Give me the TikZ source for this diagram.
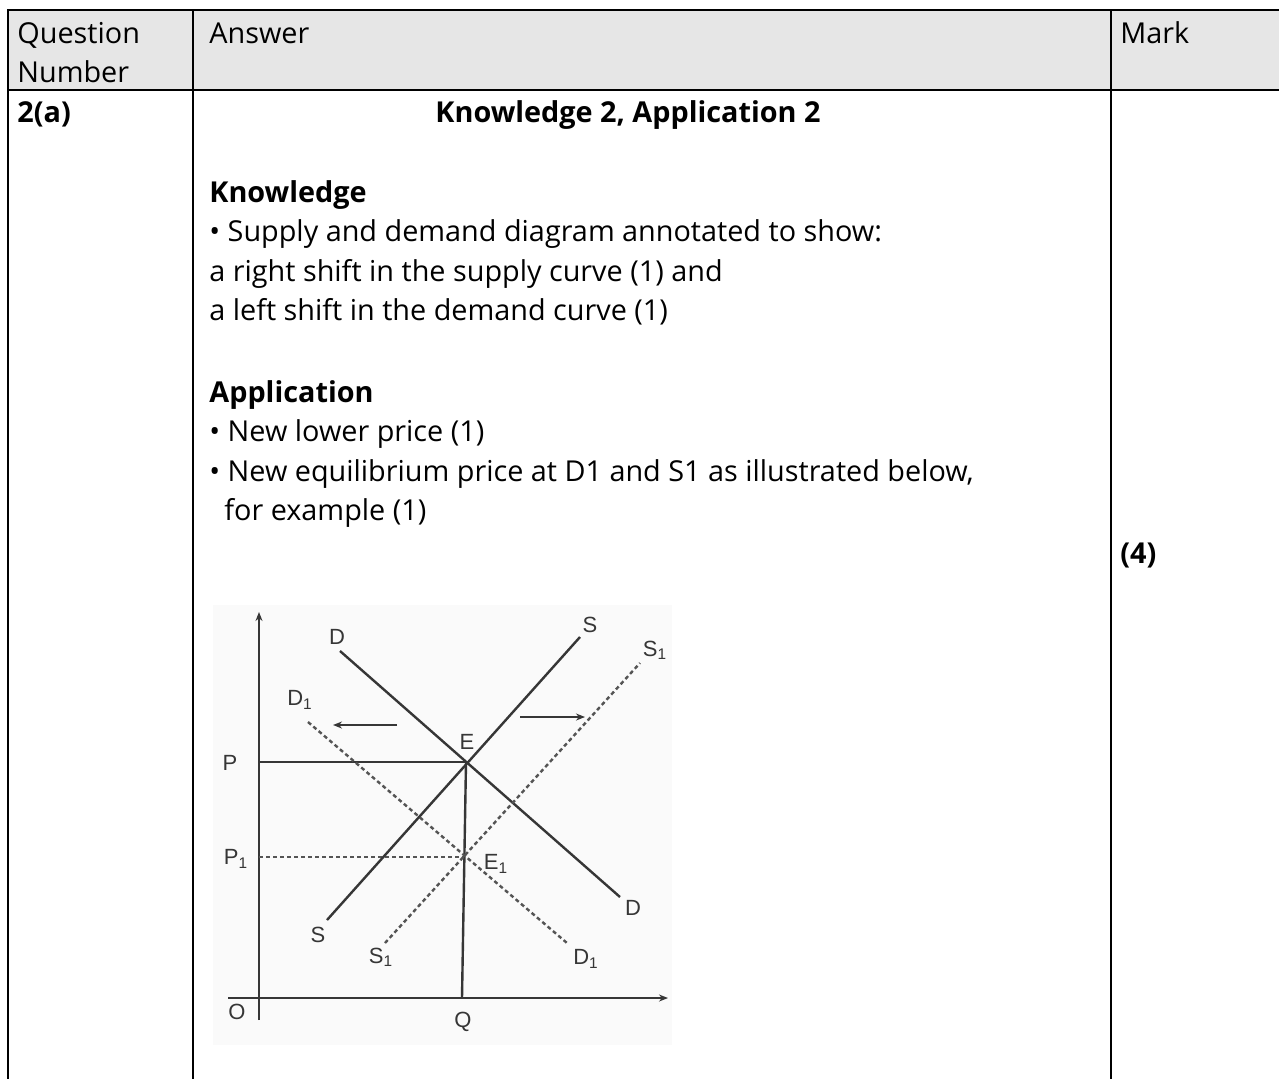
\documentclass[tikz,border=0pt]{standalone}
\usepackage{fontspec}
\setmainfont{Open Sans}
\newfontfamily\plotfont{Liberation Sans}
\usepackage{xcolor}
\usetikzlibrary{positioning}
\usetikzlibrary{arrows.meta}
\definecolor{headgray}{HTML}{E6E6E6}
\definecolor{inkgray}{HTML}{363636}
\definecolor{scanbg}{HTML}{FAFAFA}
\tikzstyle{rule} = [line width=1.3pt, draw=black]
\tikzstyle{bodytext} = [inner sep=0pt, anchor=base west, font=\fontsize{14.4}{19.75}\selectfont]
\tikzstyle{headtext} = [bodytext]
\tikzstyle{boldtext} = [bodytext, font=\fontsize{14.4}{19.75}\selectfont\bfseries]
\tikzstyle{curve} = [line width=1.2pt, draw=inkgray]
\tikzstyle{shiftcurve} = [line width=1.2pt, draw=inkgray!85, dash pattern=on 2pt off 1.5pt]
\tikzstyle{axis} = [curve, -{Stealth[length=4.5pt, width=3.5pt]}]
\tikzstyle{plotlabel} = [inner sep=0pt, text=inkgray, font=\plotfont\fontsize{11}{12}\selectfont]

\begin{document}
\begin{tikzpicture}[x=0.5pt, y=-0.5pt]
    \useasboundingbox (0,0) rectangle (1279,1078);

    % table frame
    \fill [headgray] (8,10) rectangle (1290,90);
    \draw [rule] (1290,10) -- (8,10) -- (8,1090);
    \draw [rule] (8,90) -- (1290,90);
    \draw [rule] (193,10) -- (193,1090);
    \draw [rule] (1111,10) -- (1111,1090);

    % header row
    \node (qHead) [headtext] at (17,43) {Question};
    \node (qHeadB) [headtext, below=19.75pt of qHead.base west, anchor=base west] {Number};
    \node (aHead) [headtext] at (209,43) {Answer};
    \node (mHead) [headtext] at (1120,43) {Mark};

    % answer text
    \node (qNum) [boldtext] at (17,122) {2(a)};
    \node (title) [boldtext, anchor=base] at (628,122) {Knowledge 2, Application 2};
    \node (knowHead) [boldtext] at (209,202) {Knowledge};
    \node (knowA) [bodytext, below=19.75pt of knowHead.base west, anchor=base west] {• Supply and demand diagram annotated to show:};
    \node (knowB) [bodytext, below=19.75pt of knowA.base west, anchor=base west] {a right shift in the supply curve (1) and};
    \node (knowC) [bodytext, below=19.75pt of knowB.base west, anchor=base west] {a left shift in the demand curve (1)};
    \node (appHead) [boldtext] at (209,402) {Application};
    \node (appA) [bodytext, below=19.75pt of appHead.base west, anchor=base west] {• New lower price (1)};
    \node (appB) [bodytext, below=19.75pt of appA.base west, anchor=base west] {• New equilibrium price at D1 and S1 as illustrated below,};
    \node (appC) [bodytext, below=19.75pt of appB.base west, anchor=base west, xshift=7.5pt] {for example (1)};
    \node (mark) [boldtext] at (1120,563) {(4)};

    % supply and demand diagram
    \fill [scanbg] (213,605) rectangle (672,1045);
    \coordinate (yTop) at (259,612);
    \coordinate (yBot) at (259,1020);
    \coordinate (xLeft) at (228,998);
    \coordinate (xRight) at (668,998);
    \coordinate (pAxis) at (259,762);
    \coordinate (p1Axis) at (259,857);
    \coordinate (qAxis) at (462,998);
    \coordinate (eq) at (466,762);
    \coordinate (eqNew) at (464,857);
    \coordinate (dTop) at (340,651);
    \coordinate (dBot) at (620,897);
    \coordinate (sBot) at (327,920);
    \coordinate (sTop) at (580,637);
    \coordinate (d1Top) at (308,722);
    \coordinate (d1Bot) at (567,943);
    \coordinate (s1Bot) at (385,943);
    \coordinate (s1Top) at (640,663);
    \coordinate (leftFrom) at (397,725);
    \coordinate (leftTo) at (333,725);
    \coordinate (rightFrom) at (520,717);
    \coordinate (rightTo) at (585,717);

    \draw [axis] (yBot) -- (yTop);
    \draw [axis] (xLeft) -- (xRight);
    \draw [curve] (pAxis) -- (eq);
    \draw [curve] (eq) -- (qAxis);
    \draw [shiftcurve] (p1Axis) -- (eqNew);
    \draw [curve] (dTop) -- (dBot);
    \draw [curve] (sBot) -- (sTop);
    \draw [shiftcurve] (d1Top) -- (d1Bot);
    \draw [shiftcurve] (s1Bot) -- (s1Top);
    \draw [axis] (leftFrom) -- (leftTo);
    \draw [axis] (rightFrom) -- (rightTo);

    \node (dLabA) [plotlabel] at (337,637) {D};
    \node (dLabB) [plotlabel] at (633,908) {D};
    \node (sLabA) [plotlabel] at (590,625) {S};
    \node (sLabB) [plotlabel] at (318,935) {S};
    \node (s1LabA) [plotlabel] at (655,650) {S\textsubscript{1}};
    \node (s1LabB) [plotlabel] at (381,957) {S\textsubscript{1}};
    \node (d1LabA) [plotlabel] at (300,700) {D\textsubscript{1}};
    \node (d1LabB) [plotlabel] at (586,959) {D\textsubscript{1}};
    \node (eLab) [plotlabel] at (467,742) {E};
    \node (e1Lab) [plotlabel] at (496,864) {E\textsubscript{1}};
    \node (pLab) [plotlabel] at (230,763) {P};
    \node (p1Lab) [plotlabel] at (236,859) {P\textsubscript{1}};
    \node (oLab) [plotlabel] at (237,1012) {O};
    \node (qLab) [plotlabel] at (463,1022) {Q};
\end{tikzpicture}
\end{document}
